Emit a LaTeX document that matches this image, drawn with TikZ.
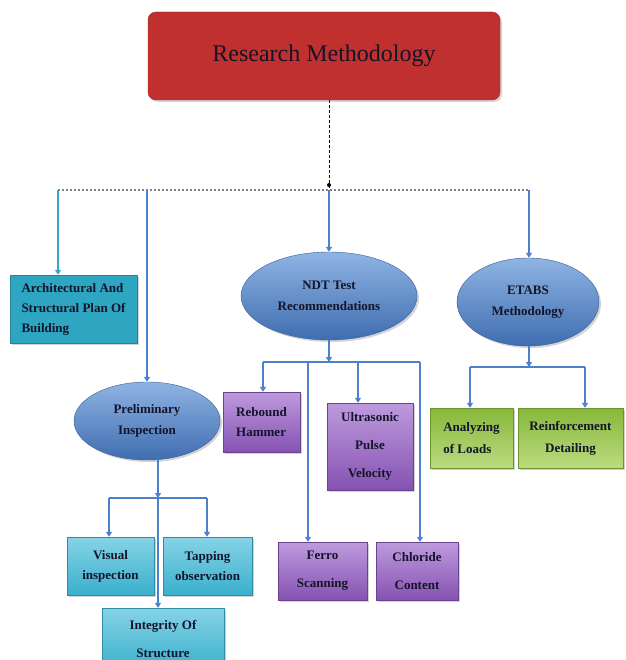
\documentclass[tikz,border=0pt]{standalone}
\usepackage{fontspec}
\setmainfont{Liberation Serif}
\usetikzlibrary{shapes.geometric, shadows, arrows.meta}
\definecolor{rmred}{HTML}{C0302E}
\definecolor{elblue}{HTML}{3F6DB0}
\definecolor{ellight}{HTML}{8FB4E3}
\definecolor{lineblue}{HTML}{4A80CC}
\definecolor{archteal}{HTML}{2EA5C1}
\definecolor{archline}{HTML}{3AA8CC}
\definecolor{lteal}{HTML}{3AB0CC}
\definecolor{lteallight}{HTML}{86D3E6}
\definecolor{purp}{HTML}{8552B2}
\definecolor{purplight}{HTML}{BE9ADD}
\definecolor{grn}{HTML}{86B83A}
\definecolor{grnlight}{HTML}{BCDB80}
\definecolor{txt}{HTML}{14142A}
\begin{document}
\begin{tikzpicture}[x=1pt, y=-1pt, >={Triangle[width=6pt,length=5pt]},
    shade/.style={drop shadow={shadow xshift=2pt, shadow yshift=-2pt, opacity=0.35}},
    title/.style={rectangle, rounded corners=8pt, fill=rmred, draw=rmred!80!black, shade,
      minimum width=352pt, minimum height=88pt, font=\fontsize{24}{28}\selectfont, text=txt},
    oval/.style={ellipse, draw=elblue!85!black, top color=ellight, bottom color=elblue, shade,
      inner sep=0pt, align=center, font=\bfseries\fontsize{13}{21}\selectfont, text=txt},
    box/.style={rectangle, inner sep=0pt, shade, font=\bfseries\fontsize{13}{20}\selectfont, text=txt},
    tealbox/.style={box, draw=lteal!80!black, top color=lteallight, bottom color=lteal},
    purpbox/.style={box, draw=purp!80!black, top color=purplight, bottom color=purp},
    grnbox/.style={box, draw=grn!80!black, top color=grn, bottom color=grnlight},
    link/.style={draw=lineblue, line width=1.6pt, ->},
    linkplain/.style={draw=lineblue, line width=1.6pt},
    dashline/.style={draw=black, line width=1pt, dash pattern=on 3pt off 2pt},
    busline/.style={draw=gray, line width=1.5pt, dash pattern=on 2pt off 2pt}]
  \useasboundingbox (0,0) rectangle (625,660);
  \clip (0,0) rectangle (625,660);
  % top and first level
  \node[title] (rm) at (324,56) {Research Methodology};
  \node[box, fill=archteal, draw=archteal!80!black, minimum width=127pt, minimum height=68pt,
    align=left] (arch) at (73.5,309) {Architectural And\\Structural Plan Of\\Building};
  \node[oval, minimum width=176pt, minimum height=88pt] (ndt) at (329,296) {NDT Test\\Recommendations};
  \node[oval, minimum width=142pt, minimum height=88pt] (etabs) at (528,302) {ETABS\\Methodology};
  \node[oval, minimum width=146pt, minimum height=78pt] (prelim) at (147,421) {Preliminary\\Inspection};
  % NDT tests
  \node[purpbox, minimum width=77pt, minimum height=60pt, align=left] (rebound) at (261.5,422) {Rebound\\Hammer};
  \node[purpbox, minimum width=86pt, minimum height=87pt, align=center,
    font=\bfseries\fontsize{13}{28}\selectfont] (ultra) at (370,446.5) {Ultrasonic\\Pulse\\Velocity};
  \node[purpbox, minimum width=89pt, minimum height=58pt, align=center,
    font=\bfseries\fontsize{13}{28}\selectfont] (ferro) at (322.5,571) {Ferro\\Scanning};
  \node[purpbox, minimum width=82pt, minimum height=58pt, align=center,
    font=\bfseries\fontsize{13}{28}\selectfont] (chloride) at (417,571) {Chloride\\Content};
  % ETABS steps
  \node[grnbox, minimum width=83pt, minimum height=60pt, align=left,
    font=\bfseries\fontsize{13}{22}\selectfont] (loads) at (471.5,438) {Analyzing\\of Loads};
  \node[grnbox, minimum width=105pt, minimum height=60pt, align=center,
    font=\bfseries\fontsize{13}{22}\selectfont] (reinf) at (570.5,438) {Reinforcement\\Detailing};
  % inspection steps
  \node[tealbox, minimum width=87pt, minimum height=58pt, align=center] (visual) at (110.5,566) {Visual\\inspection};
  \node[tealbox, minimum width=89pt, minimum height=58pt, align=center] (tapping) at (207.5,566) {Tapping\\observation};
  \node[tealbox, minimum width=122pt, minimum height=62pt, align=center,
    font=\bfseries\fontsize{13}{28}\selectfont] (integrity) at (163,639) {Integrity Of\\Structure};
  % main bus
  \coordinate (bus) at (329,190);
  \coordinate (busl) at (58,190);
  \coordinate (busr) at (529,190);
  \draw[dashline] (rm.south -| bus) -- (bus);
  \fill (bus) ++(0,-5) circle (2);
  \draw[busline] (busl) -- (busr);
  \draw[draw=archline, line width=1.6pt, ->] (busl) -- (busl |- arch.north);
  \draw[link] (bus -| prelim.north) -- (prelim.north);
  \draw[link] (bus) -- (ndt.north);
  \draw[link] (busr) -- (busr |- etabs.north);
  % NDT branch
  \coordinate (nb) at (329,362);
  \coordinate (n1) at (263,362);
  \coordinate (n2) at (308,362);
  \coordinate (n3) at (358,362);
  \coordinate (n4) at (420,362);
  \draw[link] (ndt.south) -- (nb);
  \draw[linkplain] (n1) -- (n4);
  \foreach \c/\t in {n1/rebound, n2/ferro, n3/ultra, n4/chloride}
    \draw[link] (\c) -- (\c |- \t.north);
  % ETABS branch
  \coordinate (eb) at (529,367);
  \coordinate (e1) at (470,367);
  \coordinate (e2) at (585,367);
  \draw[link] (etabs.south -| eb) -- (eb);
  \draw[linkplain] (e1) -- (e2);
  \draw[link] (e1) -- (e1 |- loads.north);
  \draw[link] (e2) -- (e2 |- reinf.north);
  % inspection branch
  \coordinate (pb) at (158,498);
  \coordinate (p1) at (109,498);
  \coordinate (p2) at (207,498);
  \draw[link] (prelim.south -| pb) -- (pb);
  \draw[linkplain] (p1) -- (p2);
  \draw[link] (p1) -- (p1 |- visual.north);
  \draw[link] (p2) -- (p2 |- tapping.north);
  \draw[link] (pb) -- (pb |- integrity.north);
\end{tikzpicture}
\end{document}
